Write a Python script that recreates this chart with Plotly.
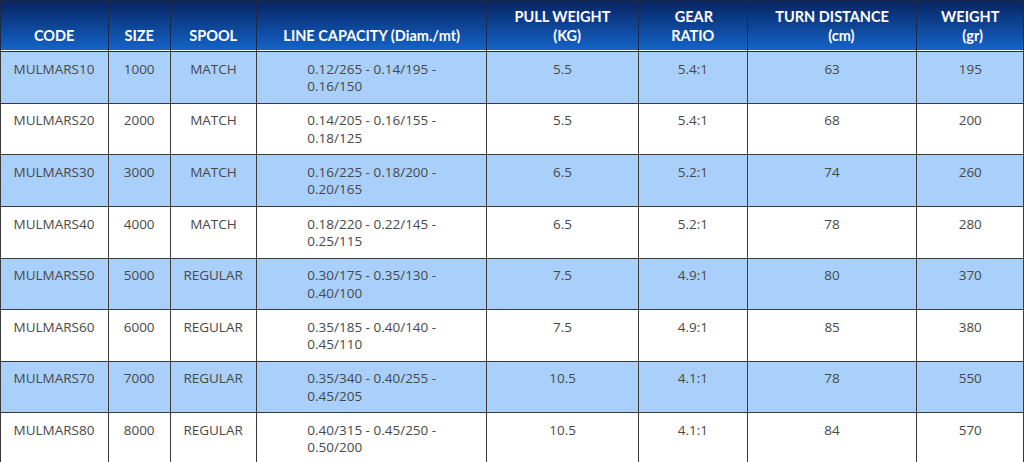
import plotly.graph_objects as go

headers = ["CODE", "SIZE", "SPOOL", "LINE CAPACITY (Diam./mt)",
           "PULL WEIGHT|(KG)", "GEAR|RATIO", "TURN DISTANCE|(cm)", "WEIGHT|(gr)"]

codes = ["MULMARS10", "MULMARS20", "MULMARS30", "MULMARS40",
         "MULMARS50", "MULMARS60", "MULMARS70", "MULMARS80"]
sizes = ["1000", "2000", "3000", "4000", "5000", "6000", "7000", "8000"]
spools = ["MATCH", "MATCH", "MATCH", "MATCH",
          "REGULAR", "REGULAR", "REGULAR", "REGULAR"]
line_capacity = [
    "0.12/265 - 0.14/195 - 0.16/150",
    "0.14/205 - 0.16/155 - 0.18/125",
    "0.16/225 - 0.18/200 - 0.20/165",
    "0.18/220 - 0.22/145 - 0.25/115",
    "0.30/175 - 0.35/130 - 0.40/100",
    "0.35/185 - 0.40/140 - 0.45/110",
    "0.35/340 - 0.40/255 - 0.45/205",
    "0.40/315 - 0.45/250 - 0.50/200",
]
pull_weight = ["5.5", "5.5", "6.5", "6.5", "7.5", "7.5", "10.5", "10.5"]
gear_ratio = ["5.4:1", "5.4:1", "5.2:1", "5.2:1", "4.9:1", "4.9:1", "4.1:1", "4.1:1"]
turn_distance = ["63", "68", "74", "78", "80", "85", "78", "84"]
weight = ["195", "200", "260", "280", "370", "380", "550", "570"]

col_widths = [108, 62, 86, 230, 151, 109, 169, 107]

W, H = 1024, 462
HEADER_H = 50
ROW_H = 51.5
NBSP = "\u00a0"

# rough glyph widths (em) for the header, to centre "(KG)" etc under the first line
LATO_BOLD = dict(P=.62, U=.71, L=.53, W=.96, E=.56, I=.28, G=.72, H=.74, T=.58,
                 K=.66, A=.69, R=.62, O=.78, N=.75, D=.74, S=.52, C=.67,
                 c=.45, m=.83, g=.5, r=.36)
LATO_BOLD.update({"(": .33, ")": .33, " ": .193})


def text_em(s, widths):
    return sum(widths.get(ch, 0.6) for ch in s)


def pad_count(lines, widths, unit):
    w = [text_em(l, widths) for l in lines]
    return [int(round((max(w) - wl) / 2 / unit)) for wl in w]


def wrap_capacity(s):
    p = s.split(" - ")
    return f"{p[0]} - {p[1]} -<br>{p[2]}"


def two_lines(s):
    # pad single-line cells so every cell in a row sits at the same height
    return s if "<br>" in s else s + "<br>" + NBSP


def header_label(h):
    if "|" in h:
        lines = h.split("|")
        pads = pad_count(lines, LATO_BOLD, LATO_BOLD[" "])
        return "<br>".join("<b>" + NBSP * n + l + "</b>" for l, n in zip(lines, pads))
    return NBSP + "<br><b>" + h + "</b>"


columns = [codes, sizes, spools, [wrap_capacity(s) for s in line_capacity],
           pull_weight, gear_ratio, turn_distance, weight]

row_colors = ["#a9d0fa" if i % 2 == 0 else "#ffffff" for i in range(len(codes))]

fig = go.Figure(go.Table(
    columnwidth=col_widths,
    header=dict(
        values=[header_label(h) for h in headers],
        fill_color="rgba(0,0,0,0)",
        line=dict(color="#1b2a4a", width=1),
        font=dict(family="Lato, Open Sans, sans-serif", size=14.5, color="white"),
        align="center",
        height=HEADER_H,
    ),
    cells=dict(
        values=[[two_lines(v) for v in col] for col in columns],
        fill_color=[row_colors] * len(headers),
        line=dict(color="#3a3a3a", width=1),
        font=dict(family="Open Sans, sans-serif", size=13.5, color="#484848"),
        align="center",
        height=ROW_H,
    ),
    domain=dict(x=[0, 1], y=[0, 1]),
))

# header gradient (dark navy at top -> brighter blue at bottom)
top = (8, 36, 98)
bottom = (20, 98, 198)
steps = 25
shapes = []
for i in range(steps):
    t = i / (steps - 1)
    c = tuple(round(top[k] + (bottom[k] - top[k]) * t) for k in range(3))
    y1 = 1 - i * HEADER_H / steps / H
    y0 = 1 - (i + 1) * HEADER_H / steps / H
    shapes.append(dict(type="rect", xref="paper", yref="paper", x0=0, x1=1,
                       y0=y0, y1=y1, fillcolor="rgb(%d,%d,%d)" % c,
                       line=dict(width=0), layer="below"))

fig.update_layout(
    width=W, height=H,
    margin=dict(l=0, r=0, t=0, b=0),
    paper_bgcolor="white",
    shapes=shapes,
)

fig.write_html("out.html", config={"displayModeBar": False},
               post_script="document.body.style.margin='0';")
